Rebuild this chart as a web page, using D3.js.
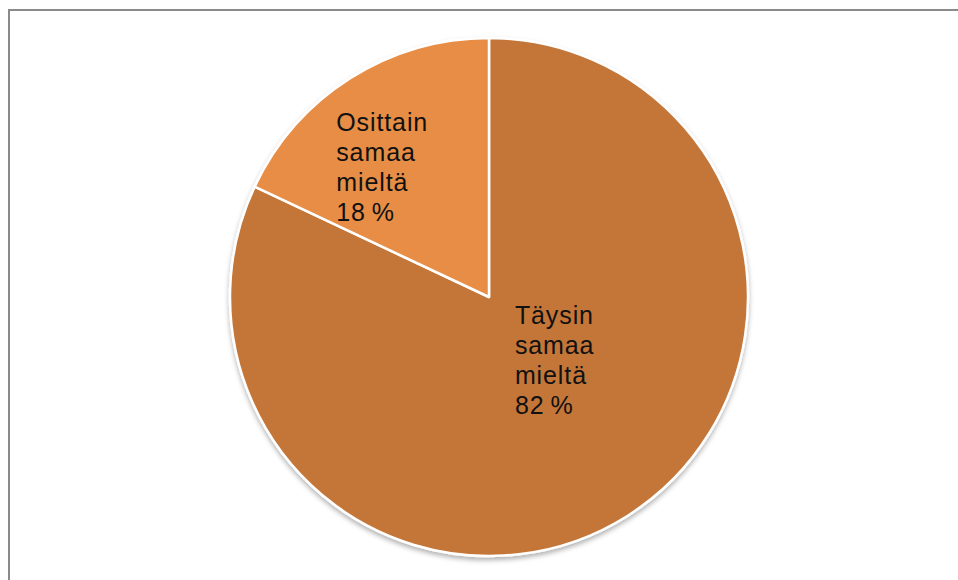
<!DOCTYPE html>
<html lang="fi">
<head>
    <meta charset="utf-8">
    <title>Pie</title>
    <style>
        body { margin: 0; background: #fff; }
        svg { display: block; }
        .lbl { font-family: 'Liberation Sans', Arial, sans-serif; font-size: 25px; letter-spacing: 0.9px; fill: #111; }
    </style>
    <script src="https://d3js.org/d3.v7.min.js" charset="utf-8"></script>
</head>
<body>
<svg id="chart" width="958" height="580"></svg>
<script type="text/javascript">
    // data
    var categories = ["Täysin samaa mieltä", "Osittain samaa mieltä"];
    var labelLines = [["Täysin", "samaa", "mieltä"], ["Osittain", "samaa", "mieltä"]];
    var values = [82, 18];
    var colors = ["#c47638", "#e78d45"];

    // layout
    var cx = 489, cy = 297, R = 259;
    // label block top-left, relative to centre as fraction of radius
    var labelPos = [[0.10, 0.035], [-0.59, -0.71]];
    var lineH = 30;

    var svg = d3.select("#chart");

    // frame (only top/left visible in the crop)
    svg.append("rect")
        .attr("x", 9).attr("y", 10)
        .attr("width", 1200).attr("height", 1200)
        .attr("fill", "none")
        .attr("stroke", "#8a8a8a")
        .attr("stroke-width", 2);

    var defs = svg.append("defs");
    var f = defs.append("filter").attr("id", "shadow")
        .attr("x", "-10%").attr("y", "-10%").attr("width", "120%").attr("height", "120%");
    f.append("feDropShadow")
        .attr("dx", 0).attr("dy", 3)
        .attr("stdDeviation", 2.5)
        .attr("flood-color", "#000")
        .attr("flood-opacity", 0.3);

    var pie = d3.pie().sort(null).value(function(d) { return d; });
    var arc = d3.arc().innerRadius(0).outerRadius(R);
    var arcs = pie(values);

    var g = svg.append("g").attr("transform", "translate(" + cx + "," + cy + ")");

    g.append("g").attr("filter", "url(#shadow)")
      .selectAll("path")
      .data(arcs)
      .join("path")
        .attr("d", arc)
        .attr("fill", function(d, i) { return colors[i]; })
        .attr("stroke", "#fff")
        .attr("stroke-width", 2.5)
        .attr("stroke-linejoin", "round");

    var labels = g.selectAll("text.lbl")
      .data(arcs)
      .join("text")
        .attr("class", "lbl")
        .attr("x", function(d, i) { return labelPos[i][0] * R; })
        .attr("y", function(d, i) { return labelPos[i][1] * R + 18; });

    labels.each(function(d, i) {
        var t = d3.select(this);
        var lines = labelLines[i].concat([d.data + "\u2009%"]);
        lines.forEach(function(s, k) {
            t.append("tspan")
                .attr("x", labelPos[i][0] * R)
                .attr("dy", k === 0 ? 0 : lineH)
                .text(s);
        });
    });
</script>
</body>
</html>
